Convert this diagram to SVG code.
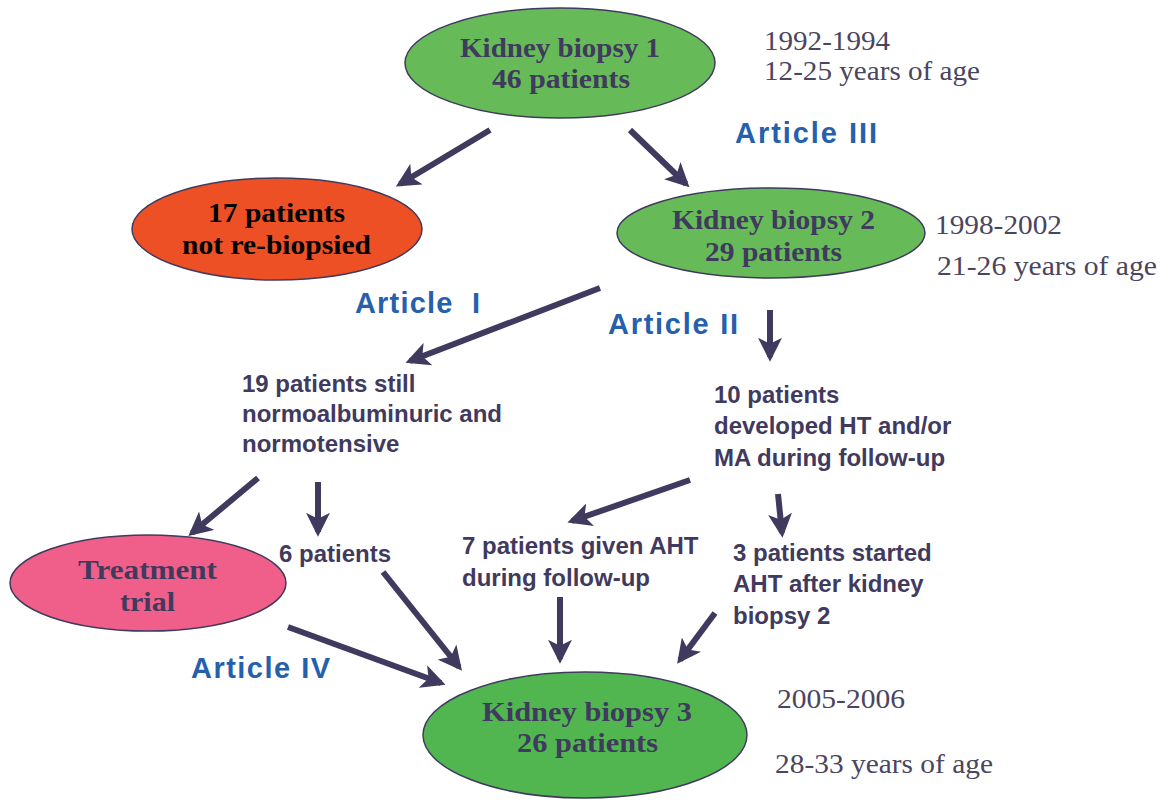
<svg xmlns="http://www.w3.org/2000/svg" width="1162" height="800" viewBox="0 0 1162 800">
<defs>
<style>
.node ellipse{stroke:#3f3a5e;stroke-width:1.5}
.nt{font-family:"Liberation Serif",serif;font-weight:bold;font-size:28px;fill:#3f3a5e}
.dt{font-family:"Liberation Serif",serif;font-size:28px;fill:#4a4560}
.art{font-family:"Liberation Sans",sans-serif;font-weight:bold;font-size:29px;fill:#2560ad}
.bt{font-family:"Liberation Sans",sans-serif;font-weight:bold;font-size:24px;fill:#3f3a5e}
.conn line{stroke:#3f3a5e;stroke-width:6;marker-end:url(#ah)}
</style>
<marker id="ah" viewBox="0 0 10 10" refX="8" refY="5" markerWidth="4" markerHeight="4" orient="auto" markerUnits="strokeWidth">
<path d="M0,0 L10,5 L0,10 L2.5,5 z" fill="#3f3a5e"/>
</marker>
</defs>
<rect width="1162" height="800" fill="#fff"/>
<g class="conn">
<line x1="490" y1="130" x2="400" y2="184"/>
<line x1="630" y1="130" x2="686" y2="184"/>
<line x1="600" y1="288" x2="410" y2="361"/>
<line x1="770" y1="310" x2="770" y2="357"/>
<line x1="258" y1="478" x2="192" y2="533"/>
<line x1="318" y1="482" x2="318" y2="532"/>
<line x1="690" y1="480" x2="572" y2="521"/>
<line x1="778" y1="494" x2="782" y2="533"/>
<line x1="383" y1="572" x2="459" y2="667"/>
<line x1="288" y1="627" x2="441" y2="683"/>
<line x1="560" y1="597" x2="560" y2="659"/>
<line x1="715" y1="613" x2="680" y2="660"/>
</g>
<g id="kb1" class="node">
<ellipse cx="560" cy="63" rx="155" ry="55" fill="#66bb58"/>
<text class="nt" x="460" y="57" textLength="200" lengthAdjust="spacingAndGlyphs">Kidney biopsy 1</text>
<text class="nt" x="492" y="88" textLength="138" lengthAdjust="spacingAndGlyphs">46 patients</text>
</g>
<g id="notrebiopsied" class="node">
<ellipse cx="277" cy="229" rx="145" ry="51" fill="#ee5025"/>
<text class="nt" x="208" y="222" textLength="137" lengthAdjust="spacingAndGlyphs" style="fill:#000">17 patients</text>
<text class="nt" x="182" y="254" textLength="189" lengthAdjust="spacingAndGlyphs" style="fill:#000">not re-biopsied</text>
</g>
<g id="kb2" class="node">
<ellipse cx="771" cy="233" rx="154" ry="45" fill="#66bb58"/>
<text class="nt" x="672" y="229" textLength="203" lengthAdjust="spacingAndGlyphs">Kidney biopsy 2</text>
<text class="nt" x="705" y="261" textLength="137" lengthAdjust="spacingAndGlyphs">29 patients</text>
</g>
<g id="trial" class="node">
<ellipse cx="148" cy="583" rx="138" ry="48" fill="#ef5f8a"/>
<text class="nt" x="78" y="579" textLength="139" lengthAdjust="spacingAndGlyphs">Treatment</text>
<text class="nt" x="120" y="611" textLength="55" lengthAdjust="spacingAndGlyphs">trial</text>
</g>
<g id="kb3" class="node">
<ellipse cx="585" cy="735" rx="162" ry="63" fill="#52b650"/>
<text class="nt" x="482" y="721" textLength="210" lengthAdjust="spacingAndGlyphs">Kidney biopsy 3</text>
<text class="nt" x="517" y="752" textLength="141" lengthAdjust="spacingAndGlyphs">26 patients</text>
</g>
<g id="dates">
<text class="dt" x="764" y="50" textLength="126" lengthAdjust="spacingAndGlyphs">1992-1994</text>
<text class="dt" x="764" y="80" textLength="216" lengthAdjust="spacingAndGlyphs">12-25 years of age</text>
<text class="dt" x="935" y="234" textLength="127" lengthAdjust="spacingAndGlyphs">1998-2002</text>
<text class="dt" x="937" y="275" textLength="220" lengthAdjust="spacingAndGlyphs">21-26 years of age</text>
<text class="dt" x="777" y="708" textLength="128" lengthAdjust="spacingAndGlyphs">2005-2006</text>
<text class="dt" x="775" y="773" textLength="218" lengthAdjust="spacingAndGlyphs">28-33 years of age</text>
</g>
<g id="articles">
<text class="art" x="735" y="143" textLength="142" lengthAdjust="spacing">Article III</text>
<text class="art" x="355" y="313" textLength="125" lengthAdjust="spacing" xml:space="preserve">Article  I</text>
<text class="art" x="608" y="334" textLength="130" lengthAdjust="spacing">Article II</text>
<text class="art" x="191" y="678" textLength="139" lengthAdjust="spacing">Article IV</text>
</g>
<g id="normo">
<text class="bt" x="242" y="392">19 patients still</text>
<text class="bt" x="242" y="422">normoalbuminuric and</text>
<text class="bt" x="242" y="452">normotensive</text>
</g>
<g id="developed">
<text class="bt" x="714" y="403">10 patients</text>
<text class="bt" x="714" y="434">developed HT and/or</text>
<text class="bt" x="714" y="466">MA during follow-up</text>
</g>
<g id="six"><text class="bt" x="279" y="562">6 patients</text></g>
<g id="seven">
<text class="bt" x="462" y="554">7 patients given AHT</text>
<text class="bt" x="462" y="586">during follow-up</text>
</g>
<g id="three">
<text class="bt" x="733" y="561">3 patients started</text>
<text class="bt" x="733" y="592">AHT after kidney</text>
<text class="bt" x="733" y="624">biopsy 2</text>
</g>
</svg>
